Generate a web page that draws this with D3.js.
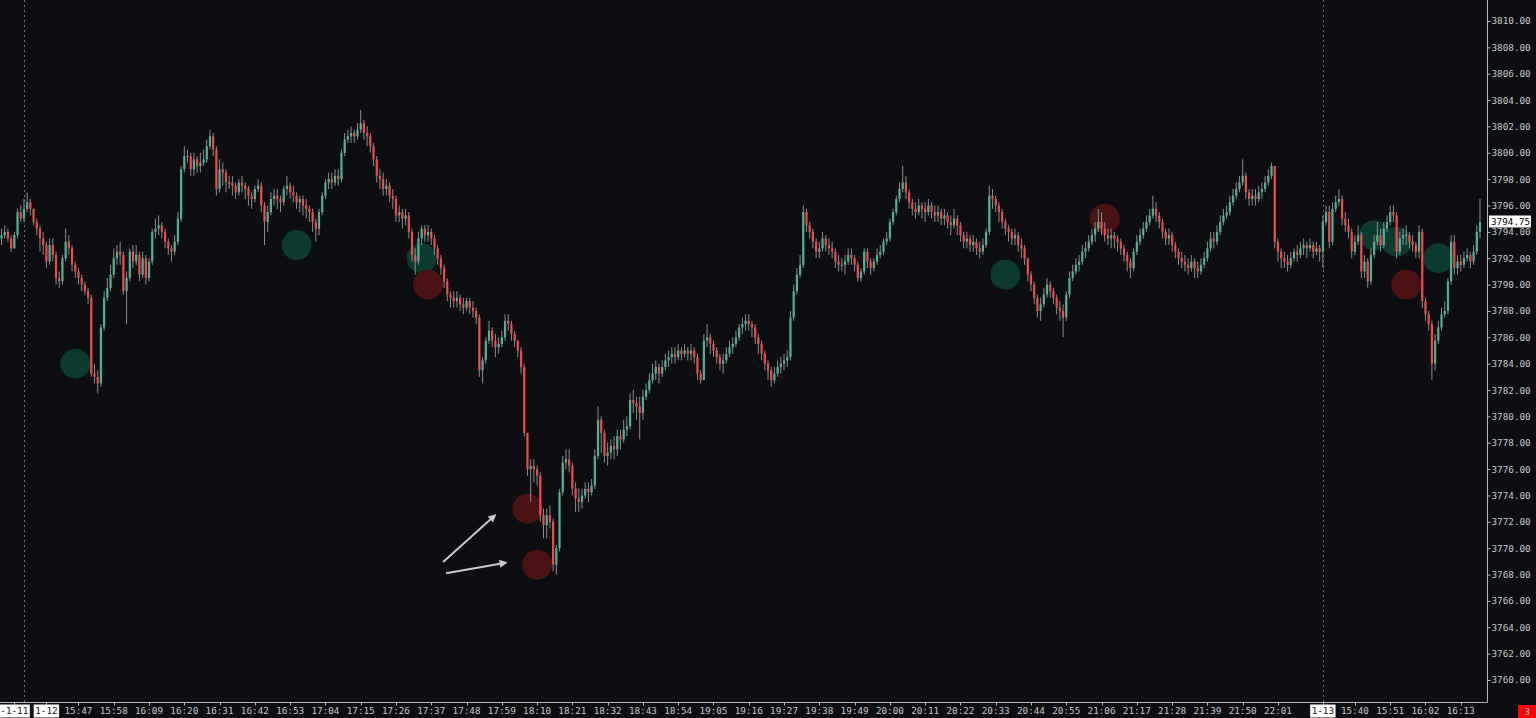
<!DOCTYPE html>
<html><head><meta charset="utf-8">
<script src="https://cdn.jsdelivr.net/npm/d3@7"></script>
<style>html,body{margin:0;padding:0;background:#0c0e11;overflow:hidden}</style>
</head><body><svg id="c" width="1536" height="718"></svg>
<script>
// ---------- DATA (1-minute candles, open = previous close) ----------
const firstOpen = 3793.5;
const closes = [
3793.75,3794.0,3793.5,3792.75,3793.75,3795.5,3795.0,3795.75,3796.25,3795.75,
3794.75,3794.25,3793.5,3793.0,3791.75,3793.0,3792.25,3790.5,3790.25,3792.0,
3793.25,3792.75,3791.5,3791.0,3790.5,3790.0,3789.5,3789.0,3783.25,3783.0,
3782.5,3786.75,3789.0,3789.75,3790.75,3792.0,3792.5,3792.25,3789.5,3790.5,
3792.5,3791.75,3792.25,3790.75,3792.0,3790.5,3791.75,3794.0,3794.25,3794.5,
3794.0,3793.25,3792.75,3792.5,3793.25,3795.0,3798.75,3799.75,3799.75,3798.75,
3799.5,3799.0,3799.25,3799.5,3800.5,3801.25,3800.25,3797.25,3798.75,3798.5,
3797.75,3797.75,3797.5,3797.0,3797.75,3797.5,3797.25,3796.75,3796.5,3797.25,
3797.5,3796.0,3794.75,3795.5,3796.5,3796.75,3796.5,3796.25,3797.25,3797.5,
3797.0,3796.75,3796.25,3796.5,3796.0,3795.75,3795.5,3794.75,3794.25,3795.5,
3796.75,3797.75,3798.0,3797.75,3798.25,3798.0,3800.0,3801.0,3801.25,3801.5,
3801.25,3801.75,3802.25,3801.5,3801.25,3800.5,3799.5,3798.25,3798.0,3797.25,
3797.5,3796.75,3796.5,3795.25,3795.5,3795.0,3795.25,3794.0,3792.25,3791.75,
3793.5,3794.25,3793.75,3794.0,3793.5,3792.75,3792.0,3791.25,3790.25,3789.25,
3789.0,3788.75,3789.0,3788.5,3788.25,3788.75,3788.25,3788.0,3787.5,3783.5,
3784.25,3785.75,3786.5,3785.75,3785.25,3785.5,3786.0,3787.25,3787.0,3786.25,
3785.75,3785.0,3783.75,3778.75,3776.0,3776.25,3776.0,3775.5,3772.5,3771.75,
3772.5,3772.0,3768.75,3770.0,3774.25,3776.5,3776.75,3776.25,3774.5,3773.75,
3773.5,3774.0,3774.5,3774.25,3774.75,3777.0,3779.75,3778.75,3777.0,3777.25,
3777.75,3777.5,3778.5,3778.25,3779.0,3779.25,3781.25,3781.0,3780.75,3780.25,
3781.5,3782.0,3782.75,3783.25,3783.75,3783.25,3783.75,3784.25,3784.5,3784.75,
3784.5,3785.0,3784.75,3785.0,3784.75,3785.0,3784.5,3783.25,3782.75,3785.75,
3786.0,3785.5,3785.0,3784.5,3784.0,3784.25,3784.75,3785.25,3785.5,3786.0,
3786.75,3787.0,3787.25,3787.0,3786.75,3786.0,3785.5,3784.75,3784.0,3783.5,
3782.75,3783.25,3783.75,3784.0,3784.25,3784.5,3787.5,3789.5,3790.75,3791.5,
3795.5,3794.5,3794.0,3793.25,3792.5,3792.75,3793.5,3793.0,3792.75,3792.5,
3791.75,3791.5,3791.5,3791.75,3792.25,3792.0,3791.5,3790.5,3791.0,3792.5,
3791.75,3791.25,3791.75,3792.25,3792.5,3793.25,3793.5,3794.75,3795.5,3796.5,
3797.25,3797.75,3797.0,3796.25,3795.75,3795.5,3796.0,3795.75,3795.5,3796.0,
3795.5,3795.25,3795.5,3795.0,3795.25,3794.75,3794.5,3795.0,3794.5,3793.75,
3793.25,3793.5,3793.0,3793.25,3792.75,3792.5,3793.0,3794.0,3796.75,3796.5,
3796.0,3795.5,3794.75,3794.25,3794.0,3793.5,3793.75,3793.0,3792.75,3792.0,
3790.75,3790.0,3789.0,3788.0,3788.5,3789.25,3790.0,3789.5,3789.0,3788.25,
3788.0,3787.5,3789.25,3790.5,3791.0,3791.5,3791.75,3792.5,3792.75,3793.25,
3793.75,3794.25,3794.75,3794.25,3793.75,3793.5,3793.75,3793.5,3793.25,3792.75,
3792.25,3791.75,3791.25,3792.5,3793.25,3793.75,3794.25,3794.75,3795.25,3795.75,
3795.25,3794.75,3794.0,3793.5,3793.75,3793.0,3792.5,3792.0,3791.75,3791.5,
3791.25,3791.75,3791.25,3791.0,3791.5,3792.0,3792.75,3793.5,3793.25,3794.0,
3794.75,3795.25,3795.5,3796.25,3796.75,3797.25,3797.75,3798.25,3797.0,3796.5,
3796.75,3796.5,3797.0,3797.25,3797.75,3798.25,3799.0,3793.25,3792.5,3792.0,
3791.75,3791.5,3792.0,3792.5,3792.25,3792.75,3793.0,3792.75,3793.0,3792.5,3792.75,3792.5,
3794.75,3795.5,3793.25,3795.75,3796.25,3796.5,3795.0,3794.5,3794.0,3792.5,
3793.25,3793.75,3791.0,3791.75,3790.25,3792.25,3793.25,3793.75,3793.0,3794.25,
3794.75,3795.5,3795.25,3792.5,3793.5,3793.75,3793.75,3793.25,3793.0,3792.5,
3794.0,3788.75,3787.75,3787.0,3784.0,3785.75,3786.75,3787.75,3788.0,3790.25,
3793.25,3791.25,3791.75,3791.5,3792.0,3792.25,3791.75,3792.5,3794.0,3794.75
];
const highs = [
3794.25,3794.5,3794.25,3793.75,3794.0,3795.75,3796.0,3796.5,3797.0,3796.5,
3795.75,3795.0,3794.5,3794.0,3793.25,3793.5,3793.5,3792.5,3791.0,3792.25,
3794.25,3793.75,3793.0,3791.75,3791.25,3790.75,3790.25,3789.75,3789.25,3784.0,
3783.5,3787.0,3789.5,3790.5,3791.5,3792.75,3793.0,3793.25,3792.5,3791.0,
3792.75,3793.0,3793.0,3792.5,3792.5,3792.25,3792.0,3794.25,3795.0,3795.25,
3794.75,3794.25,3793.5,3793.0,3793.75,3795.5,3799.0,3800.5,3800.25,3800.0,
3800.0,3799.75,3800.0,3800.25,3801.0,3801.75,3801.5,3800.5,3799.5,3799.25,
3798.75,3798.25,3798.25,3797.75,3798.0,3798.25,3797.75,3797.5,3797.0,3797.5,
3798.0,3797.75,3796.25,3796.0,3797.0,3797.25,3797.25,3796.75,3797.5,3798.25,
3797.75,3797.5,3797.0,3796.75,3796.75,3796.5,3796.0,3795.75,3795.0,3795.75,
3797.0,3798.0,3798.5,3798.5,3798.75,3798.75,3800.25,3801.5,3801.75,3802.0,
3801.75,3802.25,3803.25,3802.5,3802.0,3801.5,3800.75,3799.75,3798.75,3798.5,
3798.0,3797.75,3797.25,3796.75,3796.0,3795.75,3795.75,3795.5,3794.25,3792.75,
3794.0,3794.5,3794.5,3794.5,3794.25,3793.75,3793.0,3792.25,3791.5,3790.5,
3789.5,3789.5,3789.5,3789.25,3789.0,3789.0,3789.0,3788.75,3788.25,3787.75,
3784.5,3786.0,3787.25,3786.75,3786.25,3786.0,3786.5,3787.75,3787.75,3787.25,
3786.5,3785.75,3785.25,3784.0,3778.75,3776.75,3776.75,3776.25,3775.75,3773.0,
3773.0,3773.25,3772.25,3770.25,3774.5,3777.0,3777.5,3777.5,3776.5,3775.0,
3774.5,3774.5,3775.0,3775.0,3775.25,3777.5,3780.75,3780.0,3779.0,3778.0,
3778.25,3778.5,3779.0,3779.0,3779.75,3780.0,3781.75,3782.0,3781.5,3781.5,
3782.0,3782.5,3783.25,3784.0,3784.25,3784.0,3784.25,3784.75,3785.0,3785.25,
3785.25,3785.5,3785.25,3785.5,3785.25,3785.5,3785.25,3784.75,3783.5,3786.25,
3787.0,3786.25,3785.75,3785.25,3784.75,3784.75,3785.25,3785.75,3786.0,3786.5,
3787.0,3787.5,3787.75,3787.75,3787.25,3787.0,3786.25,3785.75,3785.0,3784.25,
3783.75,3783.75,3784.25,3784.5,3784.75,3785.0,3788.0,3790.0,3791.25,3792.25,
3796.0,3795.75,3794.75,3794.25,3793.5,3793.25,3794.0,3793.75,3793.5,3793.25,
3792.75,3792.25,3792.0,3792.25,3792.75,3792.75,3792.25,3791.75,3791.25,3792.75,
3792.75,3792.0,3792.0,3792.75,3793.0,3793.5,3794.0,3795.0,3795.75,3796.75,
3797.75,3799.0,3798.25,3797.25,3796.5,3796.25,3796.5,3796.25,3796.25,3796.5,
3796.25,3796.0,3796.0,3795.75,3795.75,3795.5,3795.25,3795.75,3795.25,3794.75,
3794.0,3794.0,3793.75,3793.75,3793.5,3793.25,3793.5,3794.25,3797.5,3797.25,
3796.75,3796.25,3795.75,3795.0,3794.5,3794.25,3794.25,3794.0,3793.5,3793.0,
3792.0,3791.0,3790.25,3789.25,3789.0,3789.75,3790.5,3790.25,3789.75,3789.25,
3788.75,3788.5,3789.5,3791.0,3791.5,3792.0,3792.25,3793.0,3793.25,3793.75,
3794.25,3794.75,3795.75,3795.5,3794.75,3794.25,3794.25,3794.0,3793.75,3793.5,
3793.0,3792.5,3792.0,3792.75,3793.75,3794.25,3794.75,3795.25,3795.75,3796.75,
3796.25,3795.5,3795.0,3794.25,3794.25,3794.0,3793.25,3792.75,3792.5,3792.25,
3792.0,3792.25,3792.0,3791.75,3792.0,3792.5,3793.25,3794.0,3794.0,3794.5,
3795.25,3795.75,3796.0,3796.75,3797.25,3797.75,3798.25,3799.5,3798.5,3797.25,
3797.25,3797.25,3797.5,3797.75,3798.25,3798.75,3799.25,3799.0,3793.5,3792.75,
3792.5,3792.25,3792.5,3792.75,3793.0,3793.25,3793.5,3793.25,3793.5,3793.25,3793.25,3793.0,
3795.25,3796.0,3796.0,3796.25,3796.75,3797.25,3796.75,3795.5,3795.0,3794.25,
3793.75,3794.5,3794.0,3792.25,3792.0,3792.75,3793.75,3794.75,3794.25,3794.75,
3795.25,3796.0,3796.0,3795.5,3794.0,3794.25,3794.5,3794.0,3793.75,3793.25,
3794.5,3794.25,3789.0,3788.0,3787.25,3786.25,3787.25,3788.25,3788.75,3790.5,
3793.75,3793.75,3792.25,3792.25,3792.5,3792.75,3792.5,3793.0,3794.5,3796.5
];
const lows = [
3793.0,3793.5,3793.25,3792.5,3792.75,3793.5,3794.75,3794.75,3795.5,3795.25,
3794.5,3793.75,3792.5,3792.25,3791.25,3791.5,3791.75,3790.0,3789.75,3790.0,
3791.75,3792.25,3791.0,3790.5,3790.0,3789.5,3789.25,3788.5,3783.0,3782.5,
3781.75,3782.25,3786.5,3788.75,3789.5,3790.5,3791.5,3791.5,3789.25,3787.0,
3790.25,3791.25,3791.5,3790.25,3790.5,3790.0,3790.25,3791.5,3793.5,3793.75,
3793.5,3792.75,3792.25,3791.75,3792.25,3793.0,3794.75,3798.5,3799.25,3798.25,
3798.25,3798.5,3798.5,3799.0,3799.25,3800.25,3799.75,3796.75,3797.0,3797.5,
3797.0,3797.25,3796.75,3796.5,3796.75,3797.0,3796.5,3796.0,3795.75,3796.25,
3797.0,3795.5,3793.0,3794.0,3795.25,3796.0,3795.75,3795.5,3796.0,3796.75,
3796.5,3796.25,3795.75,3795.5,3795.25,3795.0,3794.75,3794.0,3793.25,3793.75,
3795.25,3796.5,3797.25,3797.25,3797.5,3797.5,3797.75,3799.75,3800.75,3800.75,
3800.75,3801.0,3801.5,3801.0,3800.5,3800.0,3799.0,3797.75,3797.25,3796.75,
3796.75,3796.25,3795.75,3794.75,3794.75,3794.25,3794.5,3793.5,3791.75,3790.75,
3791.5,3793.0,3793.25,3793.25,3793.0,3792.25,3791.5,3790.75,3789.75,3788.75,
3788.25,3788.25,3788.25,3788.0,3787.75,3788.0,3787.75,3787.5,3787.0,3783.0,
3782.5,3784.0,3785.5,3785.25,3784.5,3784.75,3785.25,3785.75,3786.5,3785.75,
3785.25,3784.5,3783.25,3778.5,3775.5,3773.5,3775.0,3774.75,3772.0,3770.75,
3770.75,3771.5,3768.25,3768.0,3769.75,3774.0,3776.0,3775.75,3774.0,3772.75,
3772.75,3773.0,3773.75,3773.5,3774.0,3774.5,3776.75,3777.25,3776.5,3776.25,
3776.75,3776.75,3777.0,3777.5,3778.0,3778.5,3779.0,3780.25,3779.75,3778.25,
3779.75,3781.25,3781.75,3782.5,3782.75,3782.5,3783.0,3783.5,3783.75,3784.0,
3784.0,3784.25,3784.25,3784.5,3784.25,3784.25,3784.0,3782.75,3782.5,3782.75,
3785.25,3784.75,3784.5,3784.0,3783.5,3783.25,3784.0,3784.5,3784.75,3785.25,
3785.75,3786.25,3786.5,3786.5,3786.0,3785.5,3784.75,3784.25,3783.5,3782.75,
3782.25,3782.5,3783.0,3783.25,3783.5,3783.75,3784.25,3787.25,3789.25,3790.5,
3791.25,3794.0,3793.5,3792.75,3792.0,3792.0,3792.5,3792.5,3792.25,3792.0,
3791.25,3791.0,3791.0,3790.75,3791.5,3791.5,3791.0,3790.25,3790.25,3790.75,
3791.25,3790.75,3791.0,3791.5,3792.0,3792.25,3793.0,3793.25,3794.5,3795.25,
3796.25,3797.0,3796.5,3795.75,3795.25,3795.0,3795.25,3795.0,3794.75,3795.25,
3795.0,3794.75,3794.75,3794.5,3794.5,3794.25,3793.75,3794.25,3793.75,3793.25,
3792.75,3792.75,3792.5,3792.5,3792.25,3792.0,3792.25,3792.75,3793.75,3795.75,
3795.5,3794.75,3794.25,3793.75,3793.25,3793.0,3793.0,3792.5,3792.0,3791.5,
3790.25,3789.5,3788.5,3787.5,3787.25,3788.25,3789.0,3789.0,3788.5,3787.75,
3787.25,3786.0,3787.25,3789.0,3790.25,3790.75,3791.0,3791.5,3792.0,3792.5,
3793.0,3793.25,3794.0,3793.75,3793.25,3793.0,3792.75,3792.75,3792.5,3792.25,
3791.75,3791.0,3790.5,3791.0,3792.25,3793.0,3793.5,3794.0,3794.5,3795.0,
3794.75,3794.25,3793.5,3793.0,3793.0,3792.5,3792.0,3791.5,3791.25,3791.0,
3790.75,3791.0,3790.5,3790.5,3790.75,3791.25,3791.75,3792.5,3792.75,3793.0,
3793.75,3794.5,3795.0,3795.25,3796.0,3796.5,3797.0,3797.5,3796.5,3796.0,
3796.0,3796.0,3796.25,3796.5,3797.0,3797.5,3798.0,3792.75,3791.75,3791.25,
3791.25,3791.0,3791.25,3791.75,3791.75,3792.0,3792.25,3792.0,3792.5,3792.0,3792.25,3791.75,
3791.25,3794.5,3792.75,3793.0,3795.5,3796.0,3794.5,3794.0,3793.5,3792.0,
3792.25,3793.0,3790.5,3790.5,3789.75,3790.0,3792.0,3793.0,3792.5,3792.75,
3794.0,3794.5,3794.75,3792.0,3792.25,3793.0,3793.0,3792.75,3792.5,3792.0,
3792.0,3788.25,3787.25,3786.5,3782.75,3783.5,3785.5,3786.5,3787.5,3787.75,
3790.0,3790.75,3790.75,3791.0,3791.25,3791.75,3791.25,3791.5,3792.25,3793.5
];
const sessionStarts = [7, 412];
const tickIndex = [24,35,46,57,68,79,90,101,112,123,134,145,156,167,178,189,200,211,222,233,244,255,266,277,288,299,310,321,332,343,354,365,376,387,398,422,433,444,455];
const tickLabels = ["15:47","15:58","16:09","16:20","16:31","16:42","16:53","17:04","17:15","17:26","17:37","17:48","17:59","18:10","18:21","18:32","18:43","18:54","19:05","19:16","19:27","19:38","19:49","20:00","20:11","20:22","20:33","20:44","20:55","21:06","21:17","21:28","21:39","21:50","22:01","15:40","15:51","16:02","16:13"];
const dateIndex = [4, 14, 412];
const dateLabels = ["-1-11", "1-12", "1-13"];
const priceTicks = [3760,3762,3764,3766,3768,3770,3772,3774,3776,3778,3780,3782,3784,3786,3788,3790,3792,3794,3796,3798,3800,3802,3804,3806,3808,3810];
const lastPrice = 3794.75;
const badgeText = "3";
const greenMarkIdx = [23, 92, 131, 313, 428, 435, 448];
const greenMarkPrice = [3784.0, 3793.0, 3792.0, 3790.75, 3793.75, 3793.25, 3792.0];
const redMarkIdx = [133, 164, 167, 344, 438];
const redMarkPrice = [3790.0, 3773.0, 3768.75, 3795.0, 3790.0];
const arrowFromIdx = [137.7, 138.6];
const arrowFromPrice = [3768.95, 3768.1];
const arrowToIdx = [153.9, 157.3];
const arrowToPrice = [3772.5, 3768.9];

// ---------- CHART ----------
const W = 1536, H = 718;
const plotRight = 1487, plotBottom = 702;
const svg = d3.select("#c");
svg.append("rect").attr("width", W).attr("height", H).attr("fill", "#0c0e11");

const N = closes.length;
const candles = closes.map((c, i) => {
  const o = i === 0 ? firstOpen : closes[i - 1];
  return { i, o, c, h: Math.max(highs[i], o, c), l: Math.min(lows[i], o, c) };
});

const x = d3.scaleLinear().domain([0, N - 1]).range([1.5, 1480]);
const y = d3.scaleLinear().domain([3760, 3810]).range([680, 21]);

const plot = svg.append("g");
plot.append("clipPath").attr("id", "clip").append("rect")
  .attr("x", 0).attr("y", 0).attr("width", plotRight).attr("height", plotBottom);
const pg = plot.append("g").attr("clip-path", "url(#clip)");

// session separators
pg.selectAll("line.sess").data(sessionStarts).join("line")
  .attr("x1", d => Math.round(x(d)) + 0.5).attr("x2", d => Math.round(x(d)) + 0.5)
  .attr("y1", 0).attr("y2", plotBottom)
  .attr("stroke", "#6e7074").attr("stroke-width", 1).attr("stroke-dasharray", "2,3");

// markers
pg.selectAll("circle.g").data(greenMarkIdx).join("circle")
  .attr("cx", (d) => x(d)).attr("cy", (d, k) => y(greenMarkPrice[k])).attr("r", 15)
  .attr("fill", "#0d3a2f");
pg.selectAll("circle.r").data(redMarkIdx).join("circle")
  .attr("cx", (d) => x(d)).attr("cy", (d, k) => y(redMarkPrice[k])).attr("r", 15)
  .attr("fill", "#4a1213");

// wicks
pg.selectAll("line.w").data(candles).join("line")
  .attr("x1", d => x(d.i)).attr("x2", d => x(d.i))
  .attr("y1", d => y(d.h)).attr("y2", d => y(d.l))
  .attr("stroke", "#8a8c8e").attr("stroke-width", 1);

// bodies
pg.selectAll("rect.b").data(candles).join("rect")
  .attr("x", d => x(d.i) - 1.1).attr("width", 2.2)
  .attr("y", d => y(Math.max(d.o, d.c)))
  .attr("height", d => Math.max(1, Math.abs(y(d.o) - y(d.c))))
  .attr("fill", d => d.c > d.o ? "#55b09a" : (d.c < d.o ? "#ec4e4b" : "#9a9c9e"));

// arrows
const defs = svg.append("defs");
defs.append("marker").attr("id", "ah").attr("viewBox", "0 0 10 10")
  .attr("refX", 8).attr("refY", 5).attr("markerWidth", 10).attr("markerHeight", 8)
  .attr("markerUnits", "userSpaceOnUse").attr("orient", "auto")
  .append("path").attr("d", "M0,0 L10,5 L0,10 Z").attr("fill", "#c9c9c9");
pg.selectAll("line.arr").data(arrowFromIdx).join("line")
  .attr("x1", (d) => x(d)).attr("y1", (d, k) => y(arrowFromPrice[k]))
  .attr("x2", (d, k) => x(arrowToIdx[k])).attr("y2", (d, k) => y(arrowToPrice[k]))
  .attr("stroke", "#c9c9c9").attr("stroke-width", 2).attr("marker-end", "url(#ah)");

// axes
const axisColor = "#b4b8bc";
const font = "'DejaVu Sans Mono', monospace";
svg.append("line").attr("x1", plotRight + 0.5).attr("x2", plotRight + 0.5)
  .attr("y1", 0).attr("y2", plotBottom + 0.5).attr("stroke", axisColor);
svg.append("line").attr("x1", 0).attr("x2", plotRight + 0.5)
  .attr("y1", plotBottom + 0.5).attr("y2", plotBottom + 0.5).attr("stroke", axisColor);

const yAxis = d3.axisRight(y).tickValues(priceTicks).tickFormat(d3.format(".2f")).tickSize(3).tickPadding(1);
const yg = svg.append("g").attr("transform", `translate(${plotRight + 0.5},0)`).call(yAxis);
yg.select(".domain").remove();
yg.selectAll(".tick line").attr("stroke", axisColor);
yg.selectAll(".tick text").attr("fill", "#c4c8cc").style("font-family", font).style("font-size", "9.3px");

// last price label
const lp = svg.append("g").attr("transform", `translate(1489,${y(lastPrice)})`);
lp.append("rect").attr("x", 0).attr("y", -6.5).attr("width", 42).attr("height", 12).attr("fill", "#ffffff");
lp.append("text").attr("x", 2).attr("y", 0).attr("dy", "0.35em").text(d3.format(".2f")(lastPrice))
  .attr("fill", "#000").style("font-family", font).style("font-size", "9.3px");

// time axis
const xg = svg.append("g").attr("transform", `translate(0,${plotBottom + 0.5})`);
xg.selectAll("line.t").data(tickIndex.concat(dateIndex)).join("line")
  .attr("x1", d => Math.round(x(d)) + 0.5).attr("x2", d => Math.round(x(d)) + 0.5)
  .attr("y1", 0).attr("y2", 3).attr("stroke", axisColor);
xg.selectAll("text.t").data(tickIndex).join("text")
  .attr("x", d => x(d)).attr("y", 11.5).attr("text-anchor", "middle")
  .text((d, k) => tickLabels[k]).attr("fill", "#c4c8cc")
  .style("font-family", font).style("font-size", "9.3px");
const dg = xg.selectAll("g.d").data(dateIndex).join("g")
  .attr("transform", d => `translate(${x(d)},0)`);
dg.append("rect").attr("x", (d, k) => -(dateLabels[k].length * 5.6 + 3) / 2).attr("y", 2)
  .attr("width", (d, k) => dateLabels[k].length * 5.6 + 3).attr("height", 13).attr("fill", "#ffffff");
dg.append("text").attr("x", 0).attr("y", 11.5).attr("text-anchor", "middle")
  .text((d, k) => dateLabels[k]).attr("fill", "#111")
  .style("font-family", font).style("font-size", "9.3px");

// badge
svg.append("rect").attr("x", 1518).attr("y", 705).attr("width", 18).attr("height", 13).attr("fill", "#ff0000");
svg.append("text").attr("x", 1527).attr("y", 715).attr("text-anchor", "middle").text(badgeText)
  .attr("fill", "#ffd8d8").style("font-family", font).style("font-size", "9.3px");
</script></body></html>
